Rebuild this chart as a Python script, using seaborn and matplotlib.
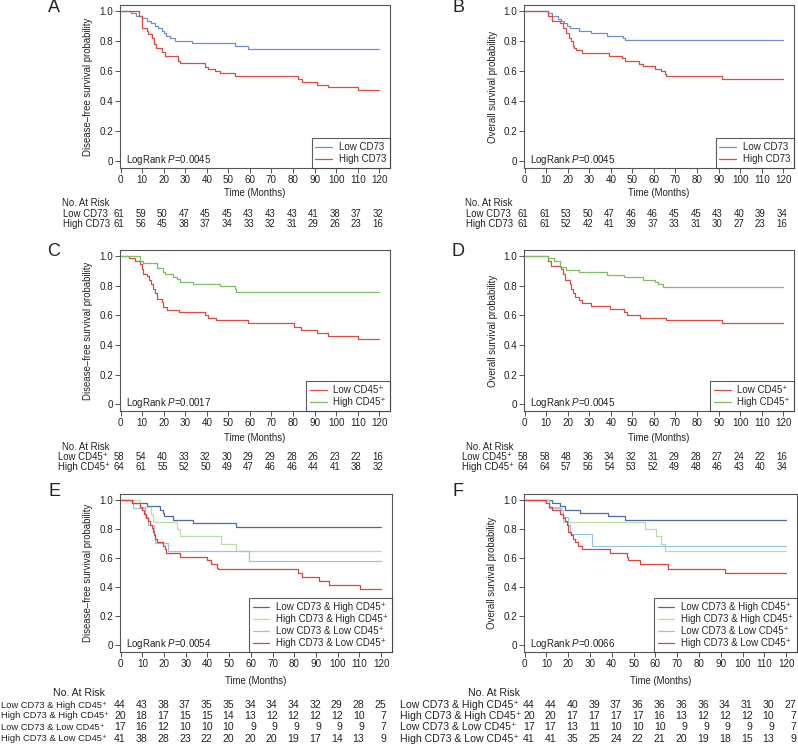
import matplotlib
matplotlib.use('Agg')
import matplotlib.pyplot as plt
import matplotlib.transforms as mtransforms
from matplotlib.lines import Line2D
import seaborn as sns
import pandas as pd

sns.set_theme(style='ticks')
plt.rcParams['font.family'] = ['Liberation Sans', 'DejaVu Sans']
plt.rcParams['mathtext.fontset'] = 'custom'
plt.rcParams['mathtext.rm'] = 'Liberation Sans'
plt.rcParams['mathtext.it'] = 'Liberation Sans:italic'

# ---------------- data ----------------
months = [0, 10, 20, 30, 40, 50, 60, 70, 80, 90, 100, 110, 120]
ytick_vals = [0, 0.2, 0.4, 0.6, 0.8, 1.0]
ytick_labels = ['0', '0.2', '0.4', '0.6', '0.8', '1.0']

# Panel A (disease-free, CD73)
A_low_t = [0, 5, 7, 10, 12, 14, 16, 17.5, 19, 20, 21, 23, 25, 33, 53, 59, 120]
A_low_s = [1.0, 0.984, 0.967, 0.951, 0.934, 0.918, 0.902, 0.885, 0.869, 0.852, 0.836, 0.820, 0.803, 0.785, 0.766, 0.747, 0.747]
A_high_t = [0, 8.7, 9.7, 12, 12.8, 14.4, 15.5, 16.4, 19, 20.6, 26.8, 27.5, 39, 40.7, 43.8, 46, 53, 82.4, 84, 91, 96, 110, 120]
A_high_s = [1.0, 0.967, 0.89, 0.87, 0.85, 0.82, 0.78, 0.751, 0.73, 0.70, 0.67, 0.655, 0.63, 0.615, 0.60, 0.585, 0.567, 0.55, 0.53, 0.51, 0.493, 0.473, 0.473]

# Panel B (overall, CD73)
B_low_t = [0, 11, 12.6, 15.7, 17, 18.3, 19.6, 21, 25, 30.7, 38, 45.8, 46.5, 120]
B_low_s = [1.0, 0.984, 0.967, 0.95, 0.934, 0.918, 0.90, 0.885, 0.868, 0.852, 0.835, 0.82, 0.81, 0.81]
B_high_t = [0, 11, 12.6, 16.5, 18, 19, 20.8, 21.6, 22.3, 23, 24, 26.5, 39, 45, 46.8, 53, 55, 60.4, 63.5, 65, 65.8, 91.7, 120]
B_high_s = [1.0, 0.967, 0.934, 0.918, 0.885, 0.852, 0.82, 0.80, 0.77, 0.754, 0.738, 0.72, 0.70, 0.685, 0.667, 0.65, 0.633, 0.615, 0.60, 0.583, 0.567, 0.545, 0.545]

# Panel C (disease-free, CD45+)
C_low_t = [0, 4, 6.6, 9, 9.7, 10.5, 12, 13, 14, 14.8, 16, 16.7, 19, 19.8, 21.3, 27, 39, 40.7, 44.2, 59, 80.4, 83.5, 91, 96, 110, 120]
C_low_s = [1.0, 0.983, 0.966, 0.948, 0.914, 0.88, 0.862, 0.84, 0.81, 0.78, 0.75, 0.71, 0.69, 0.655, 0.637, 0.62, 0.60, 0.585, 0.567, 0.545, 0.52, 0.50, 0.48, 0.46, 0.44, 0.44]
C_high_t = [0, 9, 10.5, 16.7, 19.8, 20.5, 24.4, 26, 27.5, 33.7, 46, 53, 53.5, 120]
C_high_s = [1.0, 0.968, 0.95, 0.92, 0.89, 0.875, 0.86, 0.843, 0.827, 0.81, 0.795, 0.78, 0.76, 0.76]

# Panel D (overall, CD45+)
D_low_t = [0, 10.8, 12.2, 17, 18, 18.6, 21, 21.6, 22.6, 23.4, 25, 26.5, 31, 39.6, 46, 47.3, 53.4, 65.8, 91.7, 120]
D_low_s = [1.0, 0.966, 0.93, 0.91, 0.875, 0.84, 0.81, 0.775, 0.75, 0.72, 0.70, 0.685, 0.665, 0.645, 0.62, 0.605, 0.585, 0.567, 0.545, 0.545]
D_high_t = [0, 11, 13.7, 16.2, 19.3, 25, 38, 46.2, 55, 60.4, 62, 64.2, 120]
D_high_s = [1.0, 0.984, 0.968, 0.923, 0.905, 0.889, 0.874, 0.856, 0.84, 0.825, 0.81, 0.792, 0.792]

# Panel E (disease-free, combined)
E_lh_t = [0, 5, 12, 18, 19.3, 20, 24.3, 33.2, 53.2, 120]
E_lh_s = [1.0, 0.977, 0.955, 0.932, 0.909, 0.886, 0.864, 0.841, 0.81, 0.81]
E_hh_t = [0, 9, 14, 15, 26, 27.5, 46, 53, 120]
E_hh_s = [1.0, 0.95, 0.90, 0.85, 0.80, 0.75, 0.70, 0.65, 0.65]
E_ll_t = [0, 5.5, 11, 12.5, 15.5, 16, 22, 59.3, 120]
E_ll_s = [1.0, 0.941, 0.882, 0.824, 0.765, 0.706, 0.647, 0.582, 0.582]
E_hl_t = [0, 5, 9, 9.8, 10.6, 11.5, 12.8, 13.5, 14.3, 14.8, 15.4, 16, 16.6, 19.7, 20.4, 21, 27.4, 39.6, 41.5, 44.3, 45, 81.6, 83.4, 91.6, 96, 110.3, 120]
E_hl_s = [1.0, 0.976, 0.951, 0.927, 0.902, 0.878, 0.854, 0.829, 0.805, 0.78, 0.756, 0.732, 0.707, 0.683, 0.659, 0.634, 0.61, 0.585, 0.56, 0.535, 0.522, 0.50, 0.47, 0.445, 0.415, 0.385, 0.385]

# Panel F (overall, combined)
F_lh_t = [0, 12.5, 16.3, 18.6, 25.5, 38.4, 46, 120]
F_lh_s = [1.0, 0.977, 0.955, 0.932, 0.909, 0.886, 0.864, 0.864]
F_hh_t = [0, 11, 16.3, 17.4, 55.2, 60.5, 62.4, 64.3, 120]
F_hh_s = [1.0, 0.95, 0.90, 0.85, 0.80, 0.75, 0.70, 0.65, 0.65]
F_ll_t = [0, 11, 16.5, 17.8, 20.1, 20.9, 31.1, 120]
F_ll_s = [1.0, 0.941, 0.93, 0.882, 0.824, 0.765, 0.684, 0.684]
F_hl_t = [0, 10, 11, 12.5, 16, 17.8, 18.6, 19.4, 20.1, 21.2, 22.1, 23.2, 24.7, 26.2, 39.2, 46.8, 47.6, 52.9, 65.9, 91.8, 120]
F_hl_s = [1.0, 0.976, 0.951, 0.927, 0.90, 0.878, 0.854, 0.829, 0.78, 0.756, 0.732, 0.707, 0.683, 0.659, 0.634, 0.61, 0.585, 0.557, 0.528, 0.499, 0.499]

# Numbers at risk
A_risk_low = [61, 59, 50, 47, 45, 45, 43, 43, 43, 41, 38, 37, 32]
A_risk_high = [61, 56, 45, 38, 37, 34, 33, 32, 31, 29, 26, 23, 16]
B_risk_low = [61, 61, 53, 50, 47, 46, 46, 45, 45, 43, 40, 39, 34]
B_risk_high = [61, 61, 52, 42, 41, 39, 37, 33, 31, 30, 27, 23, 16]
C_risk_low = [58, 54, 40, 33, 32, 30, 29, 29, 28, 26, 23, 22, 16]
C_risk_high = [64, 61, 55, 52, 50, 49, 47, 46, 46, 44, 41, 38, 32]
D_risk_low = [58, 58, 48, 36, 34, 32, 31, 29, 28, 27, 24, 22, 16]
D_risk_high = [64, 64, 57, 56, 54, 53, 52, 49, 48, 46, 43, 40, 34]
E_risk_lh = [44, 43, 38, 37, 35, 35, 34, 34, 34, 32, 29, 28, 25]
E_risk_hh = [20, 18, 17, 15, 15, 14, 13, 12, 12, 12, 12, 10, 7]
E_risk_ll = [17, 16, 12, 10, 10, 10, 9, 9, 9, 9, 9, 9, 7]
E_risk_hl = [41, 38, 28, 23, 22, 20, 20, 20, 19, 17, 14, 13, 9]
F_risk_lh = [44, 44, 40, 39, 37, 36, 36, 36, 36, 34, 31, 30, 27]
F_risk_hh = [20, 20, 17, 17, 17, 17, 16, 13, 12, 12, 12, 10, 7]
F_risk_ll = [17, 17, 13, 11, 10, 10, 10, 9, 9, 9, 9, 9, 7]
F_risk_hl = [41, 41, 35, 25, 24, 22, 21, 20, 19, 18, 15, 13, 9]

P_values = {'A': '0.0045', 'B': '0.0045', 'C': '0.0017', 'D': '0.0045', 'E': '0.0054', 'F': '0.0066'}

# ---------------- styling ----------------
BLUE = '#6f8fcf'
RED = '#dc4a44'
GREEN = '#7bbf60'
DBLUE = '#4d6c9f'
LGREEN = '#bcdca4'
LBLUE = '#96c4e6'
RED2 = '#e0403c'
SPINE = '#555555'
TXT = '#222222'
FS = 6.9

lowCD73, highCD73 = 'Low CD73', 'High CD73'
lowCD45, highCD45 = 'Low CD45\u207a', 'High CD45\u207a'
g_lh = 'Low CD73 & High CD45\u207a'
g_hh = 'High CD73 & High CD45\u207a'
g_ll = 'Low CD73 & Low CD45\u207a'
g_hl = 'High CD73 & Low CD45\u207a'

DFS = 'Disease\u2013free survival probability'
OS = 'Overall survival probability'

W, H = 798, 745
fig = plt.figure(figsize=(W / 100, H / 100), dpi=100)

panels = [
    dict(letter='A', rect=(120, 5, 390, 168), ylabel=DFS, ylx=88,
         curves=[(lowCD73, A_low_t, A_low_s, BLUE), (highCD73, A_high_t, A_high_s, RED)],
         risk=[(lowCD73, A_risk_low), (highCD73, A_risk_high)],
         ty=[203, 214, 224], xl=193, nar_x=62, lab_x=63, tfs=6.9, lfs=6.9, ndx=4, lety=7),
    dict(letter='B', rect=(524, 5, 794, 168), ylabel=OS, ylx=493,
         curves=[(lowCD73, B_low_t, B_low_s, BLUE), (highCD73, B_high_t, B_high_s, RED)],
         risk=[(lowCD73, B_risk_low), (highCD73, B_risk_high)],
         ty=[203, 214, 224], xl=193, nar_x=465, lab_x=466.5, tfs=6.9, lfs=6.9, ndx=4, lety=7),
    dict(letter='C', rect=(120, 250, 390, 411), ylabel=DFS, ylx=88,
         curves=[(lowCD45, C_low_t, C_low_s, RED), (highCD45, C_high_t, C_high_s, GREEN)],
         risk=[(lowCD45, C_risk_low), (highCD45, C_risk_high)],
         ty=[446.7, 456.7, 467.3], xl=438, nar_x=62, lab_x=58, tfs=6.9, lfs=6.9, ndx=4, lety=251.5),
    dict(letter='D', rect=(524, 250, 794, 411), ylabel=OS, ylx=493,
         curves=[(lowCD45, D_low_t, D_low_s, RED), (highCD45, D_high_t, D_high_s, GREEN)],
         risk=[(lowCD45, D_risk_low), (highCD45, D_risk_high)],
         ty=[446.7, 456.7, 467.3], xl=438, nar_x=465.5, lab_x=461.5, tfs=6.9, lfs=6.9, ndx=4, lety=251.5),
    dict(letter='E', rect=(120, 494, 392, 652), ylabel=DFS, ylx=88,
         curves=[(g_lh, E_lh_t, E_lh_s, DBLUE), (g_hh, E_hh_t, E_hh_s, LGREEN),
                 (g_ll, E_ll_t, E_ll_s, LBLUE), (g_hl, E_hl_t, E_hl_s, RED2)],
         risk=[(g_lh, E_risk_lh), (g_hh, E_risk_hh), (g_ll, E_risk_ll), (g_hl, E_risk_hl)],
         ty=[692.7, 705, 716, 727, 738.7], xl=681, nar_x=53, lab_x=1, tfs=7.6, lfs=6.75, ndx=5, lety=492),
    dict(letter='F', rect=(524, 494, 797, 652), ylabel=OS, ylx=492,
         curves=[(g_lh, F_lh_t, F_lh_s, DBLUE), (g_hh, F_hh_t, F_hh_s, LGREEN),
                 (g_ll, F_ll_t, F_ll_s, LBLUE), (g_hl, F_hl_t, F_hl_s, RED2)],
         risk=[(g_lh, F_risk_lh), (g_hh, F_risk_hh), (g_ll, F_risk_ll), (g_hl, F_risk_hl)],
         ty=[692.7, 705, 716, 727, 738.7], xl=681, nar_x=467.5, lab_x=400.5, tfs=7.6, lfs=7.6, ndx=10, lety=492),
]

for p in panels:
    l, t, r, b = p['rect']
    ax = fig.add_axes([l / W, 1 - b / H, (r - l) / W, (b - t) / H])
    rows = []
    for name, ts, ss, col in p['curves']:
        for tt, sv in zip(ts, ss):
            rows.append({'time': tt, 'surv': sv, 'group': name})
    df = pd.DataFrame(rows)
    pal = {name: col for name, _, _, col in p['curves']}
    order = [name for name, _, _, _ in p['curves']]
    sns.lineplot(data=df, x='time', y='surv', hue='group', hue_order=order, palette=pal,
                 drawstyle='steps-post', estimator=None, sort=False, legend=False,
                 linewidth=0.9, ax=ax)
    ax.set_xlim(-0.3, 125)
    ax.set_ylim(-0.045, 1.04)
    ax.set_xticks(months)
    ax.set_xticklabels([str(m) for m in months])
    ax.set_yticks(ytick_vals)
    ax.set_yticklabels(ytick_labels)
    ax.tick_params(direction='out', length=3.5, width=0.7, color=SPINE,
                   labelsize=FS + 0.2, pad=1.5, labelcolor=TXT)
    for s in ax.spines.values():
        s.set_visible(True)
        s.set_color(SPINE)
        s.set_linewidth(0.8)
    ax.set_xlabel('')
    ax.set_ylabel('')
    # axis titles
    fig.text((l + r) / 2 / W, 1 - p['xl'] / H, 'Time (Months)',
             ha='center', va='center', fontsize=FS, color=TXT)
    fig.text(p['ylx'] / W, 1 - ((t + b) / 2) / H, p['ylabel'],
             ha='center', va='center', rotation=90, fontsize=FS, color=TXT)
    # p value text
    ax.text(0.022, 0.048, r'LogRank $P$=' + P_values[p['letter']], transform=ax.transAxes,
            ha='left', va='center', fontsize=FS + 0.1, color=TXT)
    # legend
    handles = [Line2D([0], [0], color=col, lw=0.9) for _, _, _, col in p['curves']]
    leg = ax.legend(handles, order, loc='lower right', borderaxespad=0, frameon=True,
                    fancybox=False, fontsize=FS + 0.1, handlelength=1.7, handletextpad=0.7,
                    labelspacing=0.2, borderpad=0.4)
    leg.get_frame().set_edgecolor('#333333')
    leg.get_frame().set_linewidth(0.8)
    # panel letter
    fig.text((l - 66) / W, 1 - p['lety'] / H, p['letter'], ha='center', va='center',
             fontsize=13, color=TXT)
    # risk table
    blend = mtransforms.blended_transform_factory(ax.transData, fig.transFigure)
    num_tr = mtransforms.offset_copy(blend, fig=fig, x=p['ndx'], y=0, units='dots')
    ys = p['ty']
    fig.text(p['nar_x'] / W, 1 - ys[0] / H, 'No. At Risk', ha='left', va='center',
             fontsize=p['tfs'], color=TXT)
    for (name, vals), yy in zip(p['risk'], ys[1:]):
        fig.text(p['lab_x'] / W, 1 - yy / H, name, ha='left', va='center',
                 fontsize=p['lfs'], color=TXT)
        for m, v in zip(months, vals):
            ax.text(m, 1 - yy / H, str(v), transform=num_tr, ha='right', va='center',
                    fontsize=p['tfs'], color=TXT, clip_on=False)

fig.savefig('out.png', dpi=100)
